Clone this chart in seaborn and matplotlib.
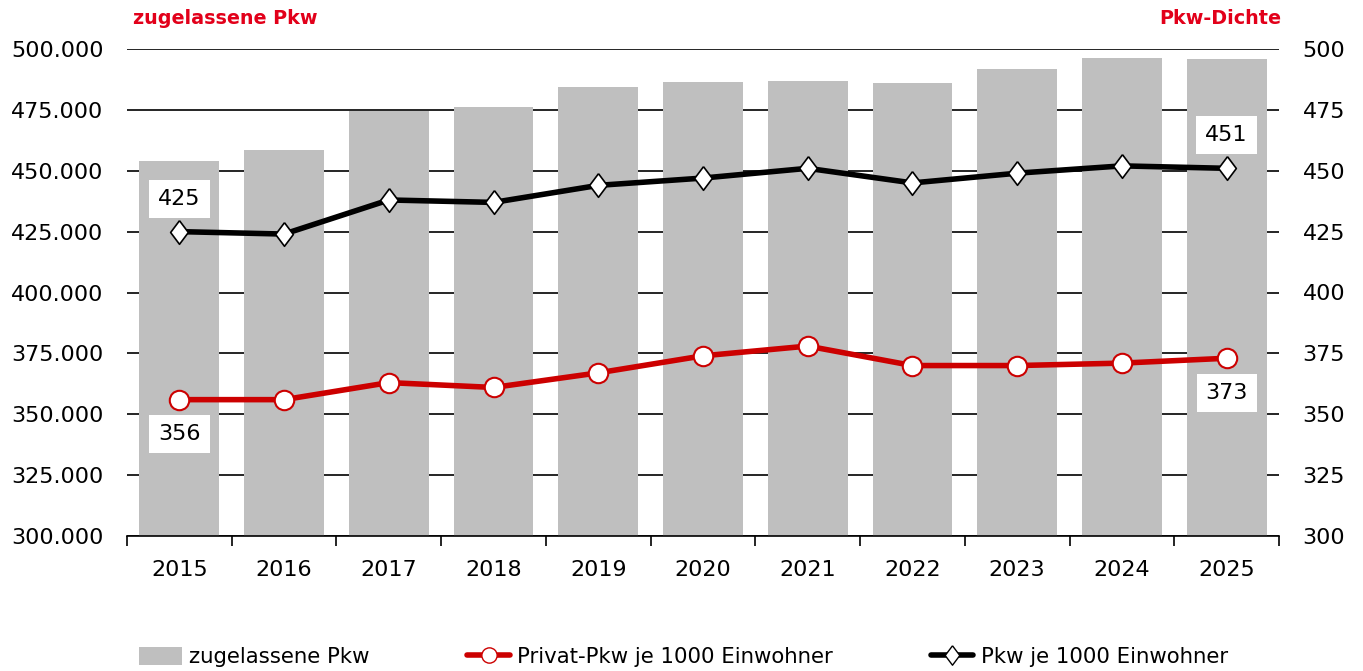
import matplotlib
matplotlib.use("Agg")
import matplotlib.pyplot as plt
from matplotlib.ticker import FuncFormatter, FixedLocator
from matplotlib.lines import Line2D
from matplotlib.patches import Patch
import seaborn as sns
import pandas as pd
import numpy as np

# Daten
jahre = ["2015", "2016", "2017", "2018", "2019", "2020", "2021", "2022", "2023", "2024", "2025"]
zugelassene_pkw = [454200, 458600, 474600, 476100, 484200, 486400, 486700, 486100, 491600, 496200, 496000]
privat_pkw_dichte = [356, 356, 363, 361, 367, 374, 378, 370, 370, 371, 373]
pkw_dichte = [425, 424, 438, 437, 444, 447, 451, 445, 449, 452, 451]

df = pd.DataFrame({"jahr": jahre, "pkw": zugelassene_pkw,
                   "privat": privat_pkw_dichte, "dichte": pkw_dichte})

sns.set_theme(style="white")
plt.rcParams["font.family"] = ["DejaVu Sans"]
plt.rcParams["text.color"] = "black"

ROT = "#E2001A"
LINIE_ROT = "#CC0000"
GRAU = "#BFBFBF"
FS = 16
raute = [(0, 1), (0.75, 0), (0, -1), (-0.75, 0), (0, 1)]

fig = plt.figure(figsize=(13.63, 6.71), dpi=100)
ax = fig.add_axes([127 / 1363, 1 - 536 / 671, (1279 - 127) / 1363, (536 - 49) / 671])

sns.barplot(data=df, x="jahr", y="pkw", color=GRAU, width=0.763, saturation=1,
            edgecolor="none", ax=ax, zorder=2)
ax.set_ylim(300000, 500000)
ax.set_yticks(np.arange(300000, 500001, 25000))
ax.yaxis.set_major_formatter(FuncFormatter(lambda v, p: f"{v:,.0f}".replace(",", ".")))
ax.set_axisbelow(True)
ax.yaxis.grid(True, color="black", lw=1.2)
ax.set_xlabel("")
ax.set_ylabel("")

ax2 = ax.twinx()
sns.pointplot(data=df, x="jahr", y="privat", color=LINIE_ROT, errorbar=None,
              markers="o", markersize=14, markerfacecolor="white",
              markeredgecolor=LINIE_ROT, markeredgewidth=1.5, linewidth=4, ax=ax2)
sns.pointplot(data=df, x="jahr", y="dichte", color="black", errorbar=None,
              markers=raute, markersize=17, markerfacecolor="white",
              markeredgecolor="black", markeredgewidth=1.2, linewidth=4, ax=ax2)
ax2.set_ylim(300, 500)
ax2.set_yticks(np.arange(300, 501, 25))
ax2.set_xlim(-0.5, len(jahre) - 0.5)
ax.set_xlim(-0.5, len(jahre) - 0.5)
ax2.set_ylabel("")
ax2.set_xlabel("")

for a in (ax, ax2):
    for s in ("top", "left", "right"):
        a.spines[s].set_visible(False)
    a.spines["bottom"].set_color("black")
    a.spines["bottom"].set_linewidth(1.2)
ax2.spines["bottom"].set_visible(False)

ax.tick_params(axis="y", length=0, pad=17, labelsize=FS, colors="black")
ax2.tick_params(axis="y", length=0, pad=17, labelsize=FS, colors="black")
ax.tick_params(axis="x", which="major", length=0, pad=17, labelsize=FS, colors="black")
ax.xaxis.set_minor_locator(FixedLocator(np.arange(-0.5, len(jahre), 1)))
ax.tick_params(axis="x", which="minor", length=7, width=1.2, color="black", bottom=True)

# Datenbeschriftungen
box = dict(boxstyle="square,pad=0.4", fc="white", ec="none")
for i, vals, dy in [(0, pkw_dichte, 33), (0, privat_pkw_dichte, -34),
                    (len(jahre) - 1, pkw_dichte, 33), (len(jahre) - 1, privat_pkw_dichte, -35)]:
    ax2.annotate(f"{vals[i]}", (i, vals[i]), xytext=(0, dy * 0.72), textcoords="offset points",
                 ha="center", va="center", fontsize=FS, color="black", bbox=box, zorder=5)

fig.text(133 / 1363, 1 - 18 / 671, "zugelassene Pkw", color=ROT, fontsize=13.8,
         fontweight="bold", ha="left", va="center")
fig.text(1281 / 1363, 1 - 18 / 671, "Pkw-Dichte", color=ROT, fontsize=13.8,
         fontweight="bold", ha="right", va="center")

handles = [
    Patch(facecolor=GRAU, edgecolor="none"),
    Line2D([], [], color=LINIE_ROT, lw=4, marker="o", markersize=11,
           markerfacecolor="white", markeredgecolor=LINIE_ROT),
    Line2D([], [], color="black", lw=4, marker=raute, markersize=14,
           markerfacecolor="white", markeredgecolor="black"),
]
labels = ["zugelassene Pkw", "Privat-Pkw je 1000 Einwohner", "Pkw je 1000 Einwohner"]
fig.legend(handles, labels, loc="center", bbox_to_anchor=(0.5015, 1 - 657 / 671), ncol=3,
           frameon=False, fontsize=15.3, handlelength=2.0, handleheight=0.9,
           columnspacing=4.6, handletextpad=0.35, labelcolor="black")

fig.savefig("out.png", dpi=100)
